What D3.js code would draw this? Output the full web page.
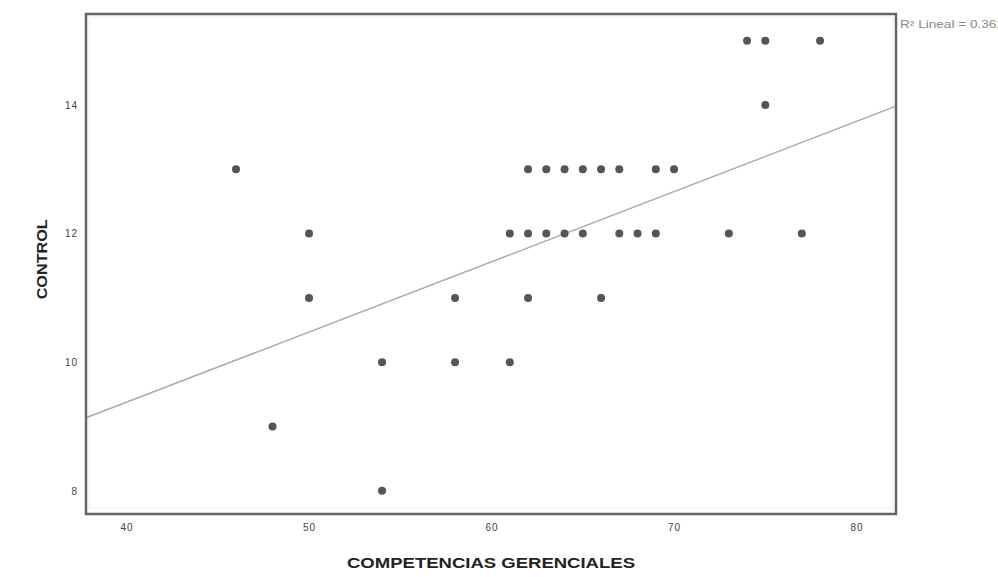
<!DOCTYPE html>
<html>
<head>
<meta charset="utf-8">
<script src="https://cdn.jsdelivr.net/npm/d3@7"></script>
<style>
  body { margin: 0; background: #fff; }
  text { font-family: Arial, "Liberation Sans", sans-serif; }
</style>
</head>
<body>
<svg class="scatter" width="998" height="577"></svg>
<script>
// COMPETENCIAS GERENCIALES (x) vs CONTROL (y)
var xVals = [46, 48, 50, 50, 54, 54, 58, 58, 61, 61, 62, 63, 64, 65, 67, 68, 69, 73, 77,
             62, 63, 64, 65, 66, 67, 69, 70, 62, 66, 75, 74, 75, 78];
var yVals = [13, 9, 12, 11, 10, 8, 11, 10, 10, 12, 12, 12, 12, 12, 12, 12, 12, 12, 12,
             13, 13, 13, 13, 13, 13, 13, 13, 11, 11, 14, 15, 15, 15];
var xTicks = [40, 50, 60, 70, 80];
var yTicks = [8, 10, 12, 14];
// linear fit
var fitIntercept = 5.01, fitSlope = 0.1092;
var r2Label = "R\u00B2 Lineal = 0.362";

var margin = { top: 14, right: 102, bottom: 63, left: 86 };
var width = 998 - margin.left - margin.right,
    height = 577 - margin.top - margin.bottom;

var svg = d3.select(".scatter")
  .append("g")
  .attr("transform", "translate(" + margin.left + "," + margin.top + ")");

var x = d3.scaleLinear().domain([37.78, 82.16]).range([0, width]);
var y = d3.scaleLinear().domain([7.64, 15.415]).range([height, 0]);

// faint inner frame
svg.append("rect")
  .attr("x", 3).attr("y", 3)
  .attr("width", width - 6).attr("height", height - 9)
  .attr("fill", "none").attr("stroke", "#eee").attr("stroke-width", 1);

// axes (labels only)
var xAxis = d3.axisBottom(x).tickValues(xTicks).tickSize(0).tickPadding(10);
var yAxis = d3.axisLeft(y).tickValues(yTicks).tickSize(0).tickPadding(8);
svg.append("g").attr("transform", "translate(0," + height + ")").call(xAxis);
svg.append("g").call(yAxis);
svg.selectAll(".domain").remove();
svg.selectAll(".tick text").style("font-size", "10px").style("letter-spacing", "1px").attr("fill", "#444");

// fit line
var x0 = x.domain()[0], x1 = x.domain()[1];
svg.append("line")
  .attr("x1", x(x0)).attr("y1", y(fitIntercept + fitSlope * x0))
  .attr("x2", x(x1)).attr("y2", y(fitIntercept + fitSlope * x1))
  .attr("stroke", "#aaa").attr("stroke-width", 1.5);

// points
svg.selectAll(".pt")
  .data(d3.range(xVals.length))
  .enter().append("circle")
  .attr("class", "pt")
  .attr("cx", i => x(xVals[i]))
  .attr("cy", i => y(yVals[i]))
  .attr("r", 4)
  .attr("fill", "#555");

// frame
svg.append("rect")
  .attr("width", width).attr("height", height)
  .attr("fill", "none").attr("stroke", "#666").attr("stroke-width", 2.5);

// R2 label
svg.append("text")
  .attr("x", width + 4).attr("y", 14)
  .style("font-size", "10px").attr("fill", "#888")
  .attr("textLength", 104).attr("lengthAdjust", "spacingAndGlyphs")
  .text(r2Label);

// axis titles
svg.append("text")
  .attr("x", width / 2).attr("y", height + 54)
  .attr("text-anchor", "middle")
  .style("font-size", "14px").style("font-weight", "bold").attr("fill", "#222")
  .attr("textLength", 288).attr("lengthAdjust", "spacingAndGlyphs")
  .text("COMPETENCIAS GERENCIALES");
svg.append("text")
  .attr("transform", "rotate(-90)")
  .attr("x", -(y(11.6))).attr("y", -39)
  .attr("text-anchor", "middle")
  .style("font-size", "14px").style("font-weight", "bold").attr("fill", "#222")
  .attr("textLength", 80).attr("lengthAdjust", "spacingAndGlyphs")
  .text("CONTROL");
</script>
</body>
</html>
